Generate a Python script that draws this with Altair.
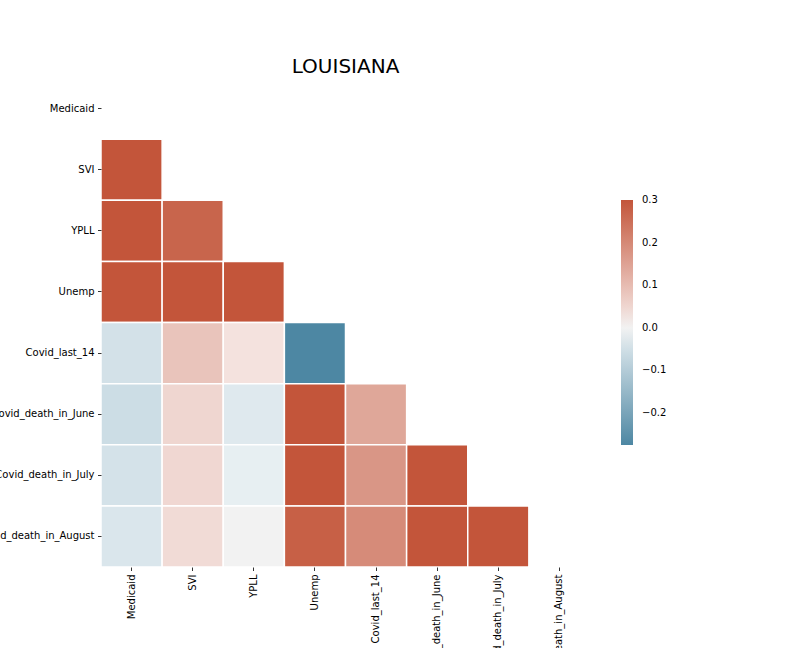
import altair as alt
import pandas as pd

variables = ["Medicaid", "SVI", "YPLL", "Unemp", "Covid_last_14",
             "Covid_death_in_June", "Covid_death_in_July", "Covid_death_in_August"]

# lower-triangle correlations (row i, columns 0..i-1)
row_svi = [0.62]
row_ypll = [0.55, 0.27]
row_unemp = [0.48, 0.58, 0.42]
row_covid14 = [-0.045, 0.085, 0.026, -0.275]
row_june = [-0.056, 0.05, -0.024, 0.36, 0.142]
row_july = [-0.042, 0.047, -0.01, 0.34, 0.174, 0.88]
row_august = [-0.032, 0.04, 0.0, 0.28, 0.195, 0.82, 0.91]

rows = [row_svi, row_ypll, row_unemp, row_covid14, row_june, row_july, row_august]

records = []
for i, vals in enumerate(rows, start=1):
    for j, v in enumerate(vals):
        records.append({"row": variables[i], "col": variables[j], "value": v})
df = pd.DataFrame(records)

color_domain = [-0.275, -0.0012, 0.0, 0.0012, 0.3005]
color_range = ["#4d87a3", "#ecf2f5", "#f2f2f2", "#f8efed", "#c3553a"]
legend_values = [-0.2, -0.1, 0.0, 0.1, 0.2, 0.3]

FONT = "DejaVu Sans"

chart = alt.Chart(df).mark_rect(stroke="white", strokeWidth=1.5).encode(
    x=alt.X("col:N", sort=variables,
            scale=alt.Scale(domain=variables, paddingInner=0, paddingOuter=0),
            axis=alt.Axis(title=None, labelAngle=270, domain=False, tickSize=3.5,
                          tickColor="black", tickWidth=0.8, labelPadding=3.5,
                          labelFont=FONT, labelFontSize=10, labelColor="black",
                          labelLimit=0, grid=False)),
    y=alt.Y("row:N", sort=variables,
            scale=alt.Scale(domain=variables, paddingInner=0, paddingOuter=0),
            axis=alt.Axis(title=None, domain=False, tickSize=3.5,
                          tickColor="black", tickWidth=0.8, labelPadding=3.5,
                          labelFont=FONT, labelFontSize=10, labelColor="black",
                          labelLimit=0, grid=False)),
    color=alt.Color("value:Q",
                    scale=alt.Scale(domain=color_domain, range=color_range,
                                    clamp=True, interpolate="rgb"),
                    legend=alt.Legend(title=None, orient="none", legendX=520, legendY=122,
                                      direction="vertical", gradientLength=245,
                                      gradientThickness=12, values=legend_values,
                                      format=".1f", labelFont=FONT, labelFontSize=10,
                                      labelColor="black", labelOffset=9,
                                      labelBaseline="middle",
                                      gradientStrokeWidth=0)),
).properties(
    width=489,
    height=489,
    title=alt.TitleParams("LOUISIANA", font=FONT, fontSize=20, fontWeight="normal",
                          color="black", anchor="middle", baseline="alphabetic",
                          offset=-15),
    autosize=alt.AutoSizeParams(type="none"),
    padding={"left": 101, "top": 78, "right": 202, "bottom": 81},
).configure_view(stroke=None)

chart.save("out.html", embed_options={"renderer": "svg", "actions": False})
